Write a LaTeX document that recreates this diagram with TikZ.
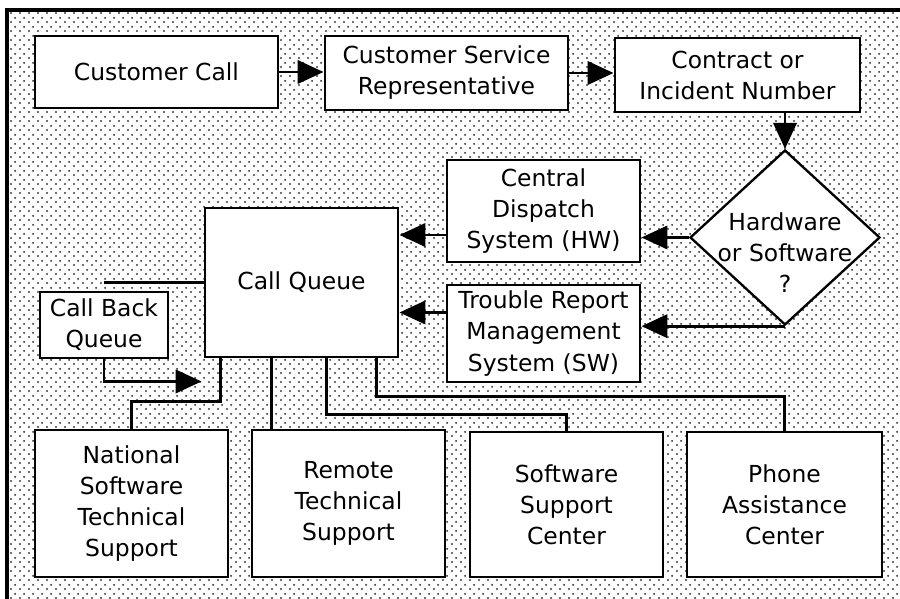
\documentclass[tikz,border=0pt]{standalone}
\usepackage{fontspec}
\setmainfont{DejaVu Sans}
\usetikzlibrary{
    arrows.meta,
    calc,
    positioning,
    shapes.geometric,
    patterns.meta
}
\tikzdeclarepattern{
    name=bgdots,
    type=uncolored,
    bounding box={(0pt,0pt) and (7.7pt,7.7pt)},
    tile size={(7.7pt,7.7pt)},
    code={
        \fill (1.9pt,1.9pt) circle (1pt);
        \fill (5.8pt,5.8pt) circle (1pt);
    }
}
\tikzset{
    box/.style={draw, fill=white, line width=2.5pt, inner sep=0pt, align=center,
        font=\fontsize{20}{26.5}\selectfont},
    link/.style={line width=2.5pt},
    >={Triangle[length=0.78cm, width=0.7cm]}
}

\begin{document}
\begin{tikzpicture}[x=0.03cm, y=-0.03cm]
                        \useasboundingbox (0, 0) rectangle (900, 599);
                        \fill[pattern=bgdots, pattern color=black!75] (7, 10) rectangle (900, 599);
                        \draw[line width=4pt] (7, 599) -- (7, 10) -- (900, 10);
                        \node[box, minimum width=7.29cm, minimum height=2.16cm] (call) at (156.5, 72) {Customer Call};
                        \node[box, minimum width=7.29cm, minimum height=2.22cm] (csr) at (446.5, 73) {Customer Service\\Representative};
                        \node[box, minimum width=7.35cm, minimum height=2.22cm] (contract) at (737.5, 75) {Contract or\\Incident Number};
                        \node[draw, fill=white, line width=2pt, diamond, inner sep=0pt, minimum width=5.7cm, minimum height=5.25cm] (hwsw) at (785, 237.5) {};
                        \node[align=center, font=\fontsize{20}{26.5}\selectfont] (hwswtext) at (785, 253) {Hardware\\or Software\\?};
                        \node[box, minimum width=5.79cm, minimum height=3.06cm] (cds) at (543.5, 211) {Central\\Dispatch\\System (HW)};
                        \node[box, minimum width=5.79cm, minimum height=2.91cm] (trms) at (543.5, 333.5) {Trouble Report\\Management\\System (SW)};
                        \node[box, minimum width=5.79cm, minimum height=4.47cm] (queue) at (301.5, 282.5) {Call Queue};
                        \node[box, minimum width=3.84cm, minimum height=1.98cm] (cbq) at (104, 325) {Call Back\\Queue};
                        \node[box, minimum width=5.79cm, minimum height=4.41cm] (nsts) at (131.5, 503.5) {National\\Software\\Technical\\Support};
                        \node[box, minimum width=5.79cm, minimum height=4.41cm] (rts) at (348.5, 503.5) {Remote\\Technical\\Support};
                        \node[box, minimum width=5.79cm, minimum height=4.35cm] (ssc) at (566.5, 504.5) {Software\\Support\\Center};
                        \node[box, minimum width=5.85cm, minimum height=4.35cm] (pac) at (784.5, 504.5) {Phone\\Assistance\\Center};
                        \coordinate (cdsout) at ($(cds.west)+(0, 24)$);
                        \coordinate (trmsout) at ($(trms.west)+(0, -21)$);
                        \coordinate (cbqin) at ($(queue.south west)+(-2, 23)$);
                        \coordinate (q1) at ($(queue.south west)+(17, 0)$);
                        \coordinate (q2) at ($(queue.south west)+(68, 0)$);
                        \coordinate (q3) at ($(queue.south west)+(123, 0)$);
                        \coordinate (q4) at ($(queue.south west)+(173, 0)$);
                        \draw[link]
                        (call.east) edge[->] (call.east -| csr.west)
                        (csr.east) edge[->] (csr.east -| contract.west)
                        (contract.south -| hwsw.north) edge[->] (hwsw.north)
                        (hwsw.west) edge[->] (hwsw.west -| cds.east)
                        (hwsw.south) edge[->] (hwsw.south -| trms.east)
                        (cdsout) edge[->] (cdsout -| queue.east)
                        (trmsout) edge[->] (trmsout -| queue.east)
                        (queue.west) edge (cbq.north |- queue.west)
                        (q2) edge (q2 |- rts.north);
                        \draw[link, ->] (cbq.south) |- (cbqin);
                        \draw[link] (q1) -- ++(0, 43) -| (nsts.north);
                        \draw[link] (q3) -- ++(0, 56) -| (ssc.north);
                        \draw[link] (q4) -- ++(0, 38) -| (pac.north);
                    \end{tikzpicture}
\end{document}
